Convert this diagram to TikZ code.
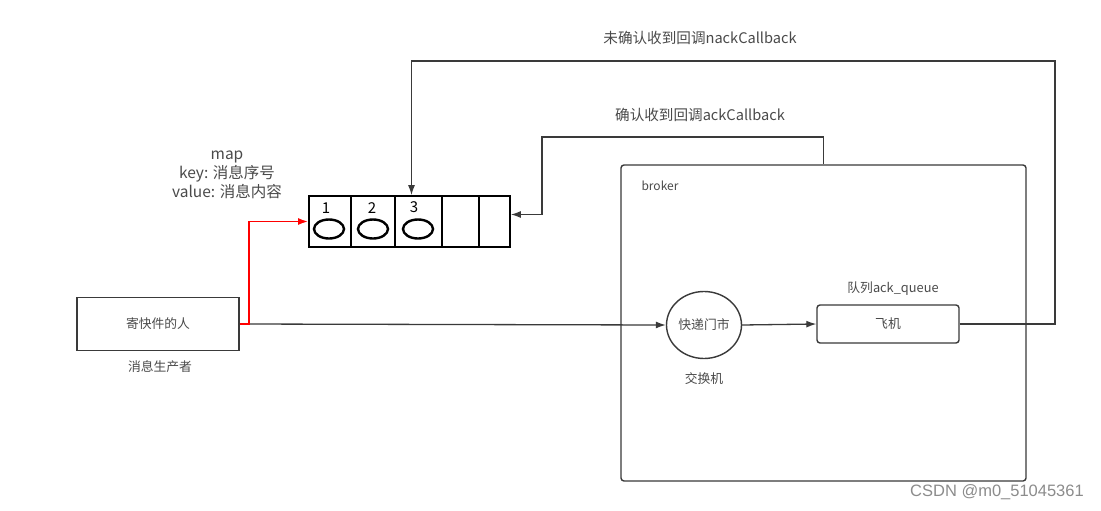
\documentclass[tikz,border=0pt]{standalone}
\usepackage{fontspec}
\setmainfont{Noto Sans CJK SC}
\setsansfont{Liberation Sans}
\usetikzlibrary{shapes.geometric, arrows.meta}
\definecolor{lineg}{HTML}{3A3A3A}
\definecolor{textg}{HTML}{4A4A4A}
\tikzset{
  box/.style={draw=lineg, line width=1.4pt, fill=white, minimum width=162pt, minimum height=53pt, font=\fontsize{12.8}{15}\selectfont, text=textg},
  cell/.style={draw=black, line width=1.8pt, minimum height=51pt, inner sep=0pt},
  egg/.style={draw=black, ellipse, line width=2.4pt, minimum width=30pt, minimum height=19pt, inner sep=0pt},
  lbl/.style={font=\fontsize{12.8}{15}\selectfont, text=textg},
  big/.style={font=\fontsize{14.6}{17}\selectfont, text=textg, align=center},
  link/.style={draw=lineg, line width=1.3pt, -{Latex[length=10pt,width=7pt]}}
}
\begin{document}
\begin{tikzpicture}[x=1pt, y=-1pt]
        \useasboundingbox[fill=white] (0,0) rectangle (1101,511);
        % producer
        \node (sender) at (158,324) [box] {寄快件的人};
        \node (sendlbl) at (160,367) [lbl] {消息生产者};
        % the map queue
        \node (q1) at (330,221.5) [cell, minimum width=42pt] {};
        \node (q2) at (373,221.5) [cell, minimum width=44pt] {};
        \node (q3) at (418.5,221.5) [cell, minimum width=47pt] {};
        \node (q4) at (460.5,221.5) [cell, minimum width=37pt] {};
        \node (q5) at (494.5,221.5) [cell, minimum width=31pt] {};
        \node (e1) at (329,229) [egg] {};
        \node (e2) at (373,229) [egg] {};
        \node (e3) at (418,229) [egg] {};
        \node (n1) at (326,208) [font=\fontsize{15}{17}\selectfont] {1};
        \node (n2) at (372,208) [font=\fontsize{15}{17}\selectfont] {2};
        \node (n3) at (414,207) [font=\fontsize{15}{17}\selectfont] {3};
        \node (maplbl) at (227,175) [big, font=\fontsize{15.5}{19}\selectfont] {map\\key: 消息序号\\value: 消息内容};
        % broker
        \node (broker) at (823.5,323) [draw=lineg, line width=1.4pt, rounded corners=3pt, minimum width=405pt, minimum height=316pt] {};
        \node (brklbl) at (638,186) [anchor=west, font=\fontsize{12}{14}\selectfont, text=textg] {broker};
        \node (exch) at (704,325) [draw=lineg, line width=1.4pt, ellipse, inner sep=0pt, minimum width=75pt, minimum height=67pt, lbl] {快递门市};
        \node (exlbl) at (704,379) [lbl] {交换机};
        \node (plane) at (888,324) [draw=lineg, line width=1.4pt, rounded corners=3pt, minimum width=142pt, minimum height=38pt, lbl] {飞机};
        \node (qlbl) at (893,289) [lbl] {队列ack\_queue};
        % callbacks
        \node (nacklbl) at (700,38) [big] {未确认收到回调nackCallback};
        \node (acklbl) at (700,115) [big] {确认收到回调ackCallback};
        \coordinate (nk) at (1055,61);
        \coordinate (ak) at (542,137);
        % connectors
        \draw [link] (sender.east) -- (exch.west);
        \draw [draw=red, line width=1.6pt, -{Latex[length=10pt,width=7pt]}] (sender.east) -- ++(9,0) |- (q1.west);
        \draw [link] (exch.east) -- (plane.west);
        \draw [link] (plane.east) -| (nk) -| ([xshift=-7pt]q3.north);
        \draw [link] (broker.north) |- (ak) |- ([yshift=7pt]q5.east);
        \node (mark) at (997,492) [font=\sffamily\fontsize{16.5}{19}\selectfont, text=black!45] {CSDN @m0\_51045361};
    \end{tikzpicture}
\end{document}
